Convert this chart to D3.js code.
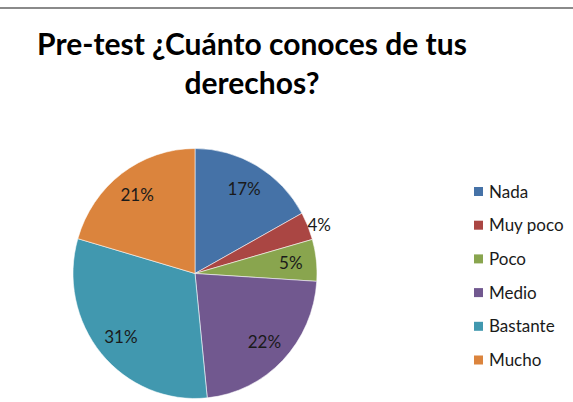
<!DOCTYPE html>
<html>
<head>
<meta charset="utf-8">
<script src="https://cdn.jsdelivr.net/npm/d3@7"></script>
<style>
  body { margin: 0; background: #fff; }
  svg { display: block; font-family: Lato, "Open Sans", sans-serif; }
</style>
</head>
<body>
<div id="chart"></div>
<script>
(function(){
var width = 573,
	height = 402,
	cx = 195,
	cy = 273.5,
	radius = 125,
	xsquash = 0.976;

// data
var categories = ["Nada", "Muy poco", "Poco", "Medio", "Bastante", "Mucho"];
var values = [17.0, 3.6, 5.4, 22.4, 31.1, 20.5];
var colors = ["#4572A7", "#AA4643", "#89A54E", "#71588F", "#4198AF", "#DB843D"];
var titleLines = ["Pre-test ¿Cuánto conoces de tus", "derechos?"];

var svg = d3.select("#chart").append("svg")
	.attr("width", width)
	.attr("height", height);

// rule across the top
svg.append("line")
	.attr("x1", 0).attr("x2", width)
	.attr("y1", 8).attr("y2", 8)
	.attr("stroke", "#8a8a8a")
	.attr("stroke-width", 2);

svg.selectAll(".title").data(titleLines).enter().append("text")
	.attr("class", "title")
	.attr("x", 252)
	.attr("y", function(d,i){ return 55 + i*39; })
	.attr("text-anchor", "middle")
	.attr("font-size", 30)
	.attr("font-weight", "bold")
	.attr("fill", "#000")
	.text(function(d){ return d; });

var pie = d3.pie().sort(null).value(function(d){ return d; });
var arc = d3.arc().innerRadius(0).outerRadius(radius);
var slices = pie(values);

var g = svg.append("g")
	.attr("transform", "translate(" + cx + "," + cy + ") scale(" + xsquash + ",1)");

g.selectAll("path").data(slices).enter().append("path")
	.attr("d", arc)
	.attr("fill", function(d,i){ return colors[i]; })
	.attr("stroke", "rgba(255,255,255,0.55)")
	.attr("stroke-width", 1)
	.attr("vector-effect", "non-scaling-stroke");

// data labels: inside for most, just outside the rim for the thinnest slice
function labelPos(d){
	var a = (d.startAngle + d.endAngle)/2, k = d.data < 4.5 ? 1.1 : 0.79;
	return [cx + Math.sin(a)*radius*k*xsquash, cy - Math.cos(a)*radius*k + (d.data < 4.5 ? 4 : 0)];
}

svg.selectAll(".lbl").data(slices).enter().append("text")
	.attr("class", "lbl")
	.attr("x", function(d){ return labelPos(d)[0]; })
	.attr("y", function(d){ return labelPos(d)[1]; })
	.attr("dy", "0.36em")
	.attr("text-anchor", "middle")
	.attr("font-size", 17)
	.attr("fill", "#1a1a1a")
	.text(function(d){ return Math.round(d.data) + "%"; });

var ly = d3.scalePoint().domain(categories).range([191.5, 360]);

var legend = svg.selectAll(".leg").data(categories).enter().append("g")
	.attr("class", "leg")
	.attr("transform", function(d){ return "translate(474," + ly(d) + ")"; });

legend.append("rect")
	.attr("x", 0).attr("y", -4.5)
	.attr("width", 9).attr("height", 9)
	.attr("fill", function(d,i){ return colors[i]; });

legend.append("text")
	.attr("x", 15)
	.attr("dy", "0.36em")
	.attr("font-size", 17)
	.attr("fill", "#1a1a1a")
	.text(function(d){ return d; });

})()
</script>
</body>
</html>
